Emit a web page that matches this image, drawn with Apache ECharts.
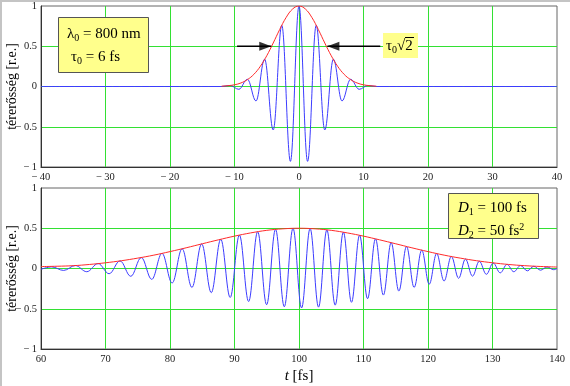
<!DOCTYPE html>
<html><head><meta charset="utf-8">
<script src="https://cdn.jsdelivr.net/npm/echarts@6/dist/echarts.min.js"></script>
<style>html,body{margin:0;padding:0;background:#fff}#c{width:570px;height:386px}</style>
</head><body><div id="c"></div>
<script>
// ---- data ----
const yTicks = [-1, -0.5, 0, 0.5, 1];
const topTicksX = [-40, -30, -20, -10, 0, 10, 20, 30, 40];
const botTicksX = [60, 70, 80, 90, 100, 110, 120, 130, 140];

// top panel: field (extrema of the oscillation) and envelope
const topPulseT = [-40, -12, -10.67, -9.33, -8, -6.67, -5.33, -4, -2.67, -1.33, 0, 1.33, 2.67, 4, 5.33, 6.67, 8, 9.33, 10.67, 12, 40];
const topPulseE = [0, 0, 0.013, -0.035, 0.09, -0.18, 0.34, -0.54, 0.76, -0.93, 1, -0.93, 0.76, -0.54, 0.34, -0.18, 0.09, -0.035, 0.013, 0, 0];
const topEnvT = [-12, -11, -10, -9, -8, -7, -6, -5, -4, -3, -2, -1, 0, 1, 2, 3, 4, 5, 6, 7, 8, 9, 10, 11, 12];
const topEnvE = [0.004, 0.01, 0.021, 0.044, 0.085, 0.151, 0.25, 0.382, 0.54, 0.707, 0.857, 0.962, 1, 0.962, 0.857, 0.707, 0.54, 0.382, 0.25, 0.151, 0.085, 0.044, 0.021, 0.01, 0.004];

// FWHM arrows (tau0*sqrt2) at half maximum: [tail, tip]
const arrowLeft = [[-9.6, 0.5], [-4.3, 0.5]];
const arrowRight = [[12.6, 0.5], [4.4, 0.5]];

// bottom panel: chirped field (extrema) and envelope
const botPulseT = [60, 61.67, 63.51, 65.32, 67.10, 68.85, 70.56, 72.25, 73.92, 75.55, 77.17, 78.76, 80.33, 81.88, 83.40, 84.91, 86.40, 87.87, 89.33, 90.76, 92.19, 93.59, 94.98, 96.36, 97.72, 99.07, 100.40, 101.72, 103.03, 104.32, 105.61, 106.88, 108.14, 109.39, 110.63, 111.86, 113.08, 114.29, 115.48, 116.67, 117.85, 119.03, 120.19, 121.34, 122.49, 123.62, 124.75, 125.8, 126.9, 127.95, 129.05, 130.1, 131.2, 132.25, 133.3, 134.35, 135.4, 136.4, 137.45, 138.45, 139.5, 140];
const botPulseE = [-0.01, 0.02, -0.024, 0.037, -0.04, 0.061, -0.065, 0.094, -0.097, 0.136, -0.135, 0.188, -0.18, 0.245, -0.235, 0.305, -0.3, 0.363, -0.36, 0.415, -0.41, 0.457, -0.45, 0.486, -0.475, 0.499, -0.49, 0.497, -0.48, 0.48, -0.455, 0.451, -0.42, 0.413, -0.375, 0.368, -0.33, 0.321, -0.28, 0.273, -0.235, 0.228, -0.195, 0.186, -0.155, 0.149, -0.122, 0.117, -0.095, 0.09, -0.072, 0.068, -0.054, 0.051, -0.04, 0.037, -0.029, 0.027, -0.021, 0.019, -0.015, 0];
const botEnvT = [60, 62.5, 65, 67.5, 70, 72.5, 75, 77.5, 80, 82.5, 85, 87.5, 90, 92.5, 95, 97.5, 100, 102.5, 105, 107.5, 110, 112.5, 115, 117.5, 120, 122.5, 125, 127.5, 130, 132.5, 135, 137.5, 140];
const botEnvE = [0.024, 0.028, 0.035, 0.05, 0.071, 0.097, 0.129, 0.166, 0.21, 0.257, 0.307, 0.356, 0.402, 0.442, 0.474, 0.493, 0.5, 0.493, 0.474, 0.442, 0.402, 0.356, 0.307, 0.257, 0.21, 0.166, 0.129, 0.097, 0.071, 0.05, 0.035, 0.025, 0.018];

const yName = 'térerősség [r.e.]';
const xName = 't';
const xUnit = ' [fs]';

// ---- chart ----
const SERIF = '"Liberation Serif", "Times New Roman", serif';
const GREEN = '#33e033';
const BLUE = '#3c3cff';
const RED = '#ff2a2a';
const zip = (xs, ys) => xs.map((x, i) => [x, ys[i]]);
const fmt = v => (v < 0 ? '\u2212\u2009' + Math.abs(v) : String(v));

function xAxisCfg(idx, ticks, withName) {
  const o = {
    gridIndex: idx, type: 'value', min: ticks[0], max: ticks[ticks.length - 1],
    interval: ticks[1] - ticks[0],
    axisLine: { show: true, onZero: false, lineStyle: { color: '#333', width: 1 } },
    axisTick: { show: false },
    splitLine: { show: true, showMinLine: false, showMaxLine: false, lineStyle: { color: GREEN, width: 1 } },
    axisLabel: { formatter: fmt, fontFamily: SERIF, fontSize: 10.5, color: '#222', margin: 5 }
  };
  if (withName) {
    o.name = '{i|' + xName + '}' + xUnit;
    o.nameLocation = 'middle';
    o.nameGap = 20;
    o.nameMoveOverlap = false;
    o.nameTextStyle = { fontFamily: SERIF, fontSize: 15, color: '#000',
      rich: { i: { fontFamily: SERIF, fontSize: 15, fontStyle: 'italic', color: '#000' } } };
  }
  return o;
}
function yAxisCfg(idx) {
  return {
    gridIndex: idx, type: 'value', min: yTicks[0], max: yTicks[yTicks.length - 1],
    interval: yTicks[1] - yTicks[0],
    axisLine: { show: true, onZero: false, lineStyle: { color: '#333', width: 1 } },
    axisTick: { show: false },
    splitLine: { show: true, showMinLine: false, showMaxLine: false, lineStyle: { color: GREEN, width: 1 } },
    axisLabel: { formatter: fmt, fontFamily: SERIF, fontSize: 10.5, color: '#222', margin: 4 },
    name: yName, nameLocation: 'middle', nameRotate: 90, nameGap: 22, nameMoveOverlap: false,
    nameTextStyle: { fontFamily: SERIF, fontSize: 14, color: '#000' }
  };
}

const subRich = {
  a: { fontFamily: SERIF, fontSize: 15, lineHeight: 18, verticalAlign: 'middle', color: '#000' },
  i: { fontFamily: SERIF, fontSize: 15, lineHeight: 18, fontStyle: 'italic', verticalAlign: 'middle', color: '#000' },
  s: { fontFamily: SERIF, fontSize: 10, lineHeight: 10, verticalAlign: 'bottom', color: '#000' },
  p: { fontFamily: SERIF, fontSize: 10, lineHeight: 10, verticalAlign: 'top', color: '#000' }
};
const YEL = '#ffff8c';

function arrowSeries(arr, pointRight) {
  return [
    { type: 'line', xAxisIndex: 0, yAxisIndex: 0, data: arr, showSymbol: false, silent: true, z: 5,
      lineStyle: { color: '#000', width: 1.3 } },
    { type: 'scatter', xAxisIndex: 0, yAxisIndex: 0, data: [arr[1]], silent: true, z: 6,
      symbol: 'triangle', symbolSize: [9, 12], symbolRotate: pointRight ? -90 : 90,
      symbolOffset: [pointRight ? -6 : 6, 0], itemStyle: { color: '#000' } }
  ];
}

const chart = echarts.init(document.getElementById('c'), null, { renderer: 'canvas' });
chart.setOption({
  animation: false,
  backgroundColor: '#fff',
  grid: [
    { left: 41, top: 6, width: 516, height: 161, show: true, borderColor: '#666', borderWidth: 1, containLabel: false, outerBoundsMode: 'none' },
    { left: 41, top: 188, width: 516, height: 161, show: true, borderColor: '#666', borderWidth: 1, containLabel: false, outerBoundsMode: 'none' }
  ],
  xAxis: [xAxisCfg(0, topTicksX, false), xAxisCfg(1, botTicksX, true)],
  yAxis: [yAxisCfg(0), yAxisCfg(1)],
  series: [
    { type: 'line', xAxisIndex: 0, yAxisIndex: 0, data: zip(topPulseT, topPulseE), showSymbol: false,
      smooth: 0.38, smoothMonotone: 'x', lineStyle: { color: BLUE, width: 1 }, silent: true },
    { type: 'line', xAxisIndex: 0, yAxisIndex: 0, data: zip(topEnvT, topEnvE), showSymbol: false,
      smooth: 0.4, lineStyle: { color: RED, width: 1 }, silent: true },
    ...arrowSeries(arrowLeft, true),
    ...arrowSeries(arrowRight, false),
    { type: 'line', xAxisIndex: 1, yAxisIndex: 1, data: zip(botPulseT, botPulseE), showSymbol: false,
      smooth: 0.38, smoothMonotone: 'x', lineStyle: { color: BLUE, width: 1 }, silent: true },
    { type: 'line', xAxisIndex: 1, yAxisIndex: 1, data: zip(botEnvT, botEnvE), showSymbol: false,
      smooth: 0.4, lineStyle: { color: RED, width: 1 }, silent: true }
  ],
  graphic: [
    { type: 'rect', shape: { x: 0, y: 0, width: 570, height: 2 }, style: { fill: '#c4c4c4' }, silent: true },
    { type: 'rect', shape: { x: 0, y: 0, width: 2, height: 386 }, style: { fill: '#c4c4c4' }, silent: true },
    { type: 'rect', shape: { x: 58.5, y: 17.5, width: 90, height: 55 }, style: { fill: YEL, stroke: '#555', lineWidth: 1 }, z: 100 },
    { type: 'text', x: 67, y: 34, z: 101, style: { text: '{a|λ}{s|0}{a| = 800 nm}', rich: subRich, verticalAlign: 'middle', align: 'left' } },
    { type: 'text', x: 71, y: 57, z: 101, style: { text: '{a|τ}{s|0}{a| = 6 fs}', rich: subRich, verticalAlign: 'middle', align: 'left' } },
    { type: 'rect', shape: { x: 383, y: 33, width: 35, height: 25 }, style: { fill: YEL }, z: 100 },
    { type: 'text', x: 386, y: 46, z: 101, style: { text: '{a|τ}{s|0}{a|√2}', rich: subRich, verticalAlign: 'middle', align: 'left' } },
    { type: 'line', shape: { x1: 405, y1: 37.5, x2: 414, y2: 37.5 }, style: { stroke: '#000', lineWidth: 1 }, z: 101 },
    { type: 'rect', shape: { x: 448.5, y: 193.5, width: 90, height: 45 }, style: { fill: YEL, stroke: '#555', lineWidth: 1 }, z: 100 },
    { type: 'text', x: 458, y: 208, z: 101, style: { text: '{i|D}{s|1}{a| = 100 fs}', rich: subRich, verticalAlign: 'middle', align: 'left' } },
    { type: 'text', x: 458, y: 231, z: 101, style: { text: '{i|D}{s|2}{a| = 50 fs}{p|2}', rich: subRich, verticalAlign: 'middle', align: 'left' } }
  ]
});
</script>
</body></html>
